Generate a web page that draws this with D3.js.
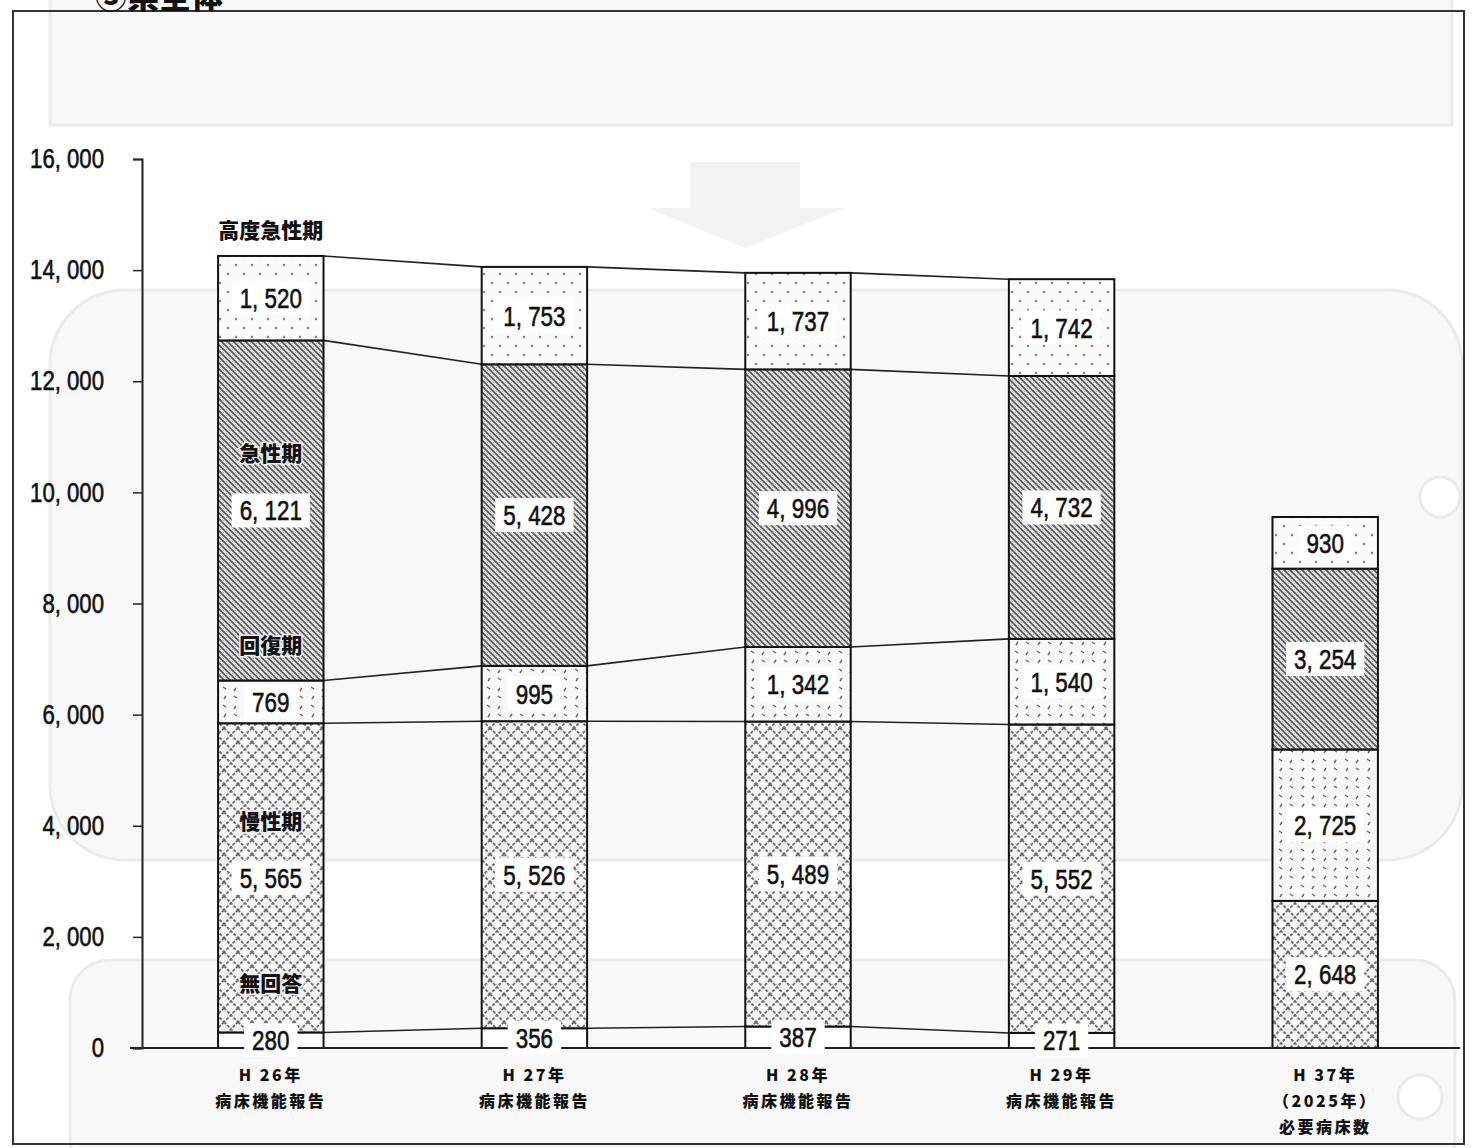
<!DOCTYPE html>
<html>
<head>
<meta charset="utf-8">
<script src="https://cdn.jsdelivr.net/npm/d3@7"></script>
<style>
  body { margin: 0; background: #fff; }
  svg { display: block; }
  .num { font-family: "Liberation Sans", Arial, sans-serif; stroke: #111; stroke-width: 0.6px; }
  .jp { font-family: "Noto Sans CJK JP", sans-serif; font-weight: 900; }
</style>
</head>
<body>
<svg id="chart" width="1472" height="1148"></svg>
<script>
// 病床機能別の病床数（県全体）
const categories = ["H26", "H27", "H28", "H29", "H37"];
const categoryLabels = [
  ["H 26年", "病床機能報告"],
  ["H 27年", "病床機能報告"],
  ["H 28年", "病床機能報告"],
  ["H 29年", "病床機能報告"],
  ["H 37年", "（2025年）", "必要病床数"]
];
const seriesNames = ["無回答", "慢性期", "回復期", "急性期", "高度急性期"];
const noAnswer  = [280, 356, 387, 271, 0];
const chronic   = [5565, 5526, 5489, 5552, 2648];
const recovery  = [769, 995, 1342, 1540, 2725];
const acute     = [6121, 5428, 4996, 4732, 3254];
const highAcute = [1520, 1753, 1737, 1742, 930];
const yTicks = [0, 2000, 4000, 6000, 8000, 10000, 12000, 14000, 16000];
const linkedCount = 4; // the four report years are joined by connector lines

const seriesValues = [noAnswer, chronic, recovery, acute, highAcute];
const rows = categories.map((c, i) => {
  const r = { cat: c };
  seriesNames.forEach((s, k) => r[s] = seriesValues[k][i]);
  return r;
});
const stacked = d3.stack().keys(seriesNames)(rows);

const svg = d3.select("#chart");
const fmt = v => d3.format(",")(v).replace(",", ", ");

// squeeze numeric text into a narrow, tall look
function narrow(sel, factor) {
  sel.each(function () {
    const len = this.getComputedTextLength();
    d3.select(this).attr("textLength", len * factor).attr("lengthAdjust", "spacingAndGlyphs");
  });
}

const y = d3.scaleLinear().domain([0, 16000]).range([1048, 159]);
const x = d3.scaleBand().domain(categories).range([139, 1457]).paddingInner(0.6).paddingOuter(0.3);

// faint page show-through shapes
const ghost = svg.append("g").attr("fill", "#f8f8f8").attr("stroke", "#ebebeb").attr("stroke-width", 3);
ghost.append("rect").attr("x", 50).attr("y", -10).attr("width", 1402).attr("height", 135);
ghost.append("path").attr("d", "M690,162 L800,162 L800,208 L845,208 L745,248 L648,208 L690,208 Z").attr("fill", "#f3f3f3").attr("stroke", "none");
ghost.append("rect").attr("x", 50).attr("y", 290).attr("width", 1412).attr("height", 570).attr("rx", 75);
ghost.append("rect").attr("x", 70).attr("y", 960).attr("width", 1385).attr("height", 220).attr("rx", 40);
ghost.append("circle").attr("cx", 1440).attr("cy", 497).attr("r", 20).attr("fill", "#fff");
ghost.append("circle").attr("cx", 1420).attr("cy", 1097).attr("r", 22).attr("fill", "#fff");

// outer frame and title
svg.append("rect").attr("x", 13).attr("y", 11).attr("width", 1451).attr("height", 1133)
  .attr("fill", "none").attr("stroke", "#333").attr("stroke-width", 2);
svg.append("text").attr("class", "jp").attr("x", 95).attr("y", 8)
  .attr("font-size", 32).attr("fill", "#111").text("③県全体");

// fill patterns
const defs = svg.append("defs");
const pDots = defs.append("pattern").attr("id", "p-high").attr("patternUnits", "userSpaceOnUse")
  .attr("width", 16).attr("height", 18);
pDots.append("rect").attr("width", 16).attr("height", 18).attr("fill", "#fbfbfb");
pDots.append("circle").attr("cx", 4).attr("cy", 4).attr("r", 1.3).attr("fill", "#888");
pDots.append("circle").attr("cx", 12).attr("cy", 13).attr("r", 1.3).attr("fill", "#888");

const pAcute = defs.append("pattern").attr("id", "p-acute").attr("patternUnits", "userSpaceOnUse")
  .attr("width", 6).attr("height", 6);
pAcute.append("rect").attr("width", 6).attr("height", 6).attr("fill", "#e6e6e6");
pAcute.append("path").attr("d", "M0,0 L6,6 M-1,5 L1,7 M5,-1 L7,1").attr("stroke", "#555").attr("stroke-width", 1.7);
pAcute.append("path").attr("d", "M6,0 L0,6").attr("stroke", "#999").attr("stroke-width", 0.7);

const pRec = defs.append("pattern").attr("id", "p-rec").attr("patternUnits", "userSpaceOnUse")
  .attr("width", 22).attr("height", 18);
pRec.append("rect").attr("width", 22).attr("height", 18).attr("fill", "#f8f8f8");
pRec.append("path").attr("d", "M3,3 l3,2 M14,12 l3,2 M16,4 l-2,3 M6,12 l-2,3")
  .attr("stroke", "#666").attr("stroke-width", 1.4);

const pChr = defs.append("pattern").attr("id", "p-chr").attr("patternUnits", "userSpaceOnUse")
  .attr("width", 14).attr("height", 14);
pChr.append("rect").attr("width", 14).attr("height", 14).attr("fill", "#f2f2f2");
pChr.append("path").attr("d", "M0,0 L14,14 M14,0 L0,14").attr("stroke", "#666")
  .attr("stroke-width", 1.7).attr("stroke-dasharray", "3,1.5");
pChr.append("circle").attr("cx", 7).attr("cy", 0).attr("r", 2.5).attr("fill", "#fff");
pChr.append("circle").attr("cx", 7).attr("cy", 14).attr("r", 2.5).attr("fill", "#fff");

const fills = {
  "無回答": "#fff",
  "慢性期": "url(#p-chr)",
  "回復期": "url(#p-rec)",
  "急性期": "url(#p-acute)",
  "高度急性期": "url(#p-high)"
};

// connector lines between report-year bars
const linked = categories.slice(0, linkedCount);
stacked.forEach(layer => {
  for (let i = 0; i < linked.length - 1; i++) {
    const a = layer[i], b = layer[i + 1];
    svg.append("line")
      .attr("x1", x(linked[i]) + x.bandwidth()).attr("y1", y(a[1]))
      .attr("x2", x(linked[i + 1])).attr("y2", y(b[1]))
      .attr("stroke", "#222").attr("stroke-width", 1.6);
  }
});

// stacked segments
stacked.forEach(layer => {
  svg.append("g").selectAll("rect").data(layer.filter(d => d[1] - d[0] > 0)).join("rect")
    .attr("x", d => x(d.data.cat))
    .attr("y", d => y(d[1]))
    .attr("width", x.bandwidth())
    .attr("height", d => y(d[0]) - y(d[1]))
    .attr("fill", fills[layer.key])
    .attr("stroke", "#111").attr("stroke-width", 2);
});

// axes
const yAxis = svg.append("g").attr("transform", "translate(142,0)")
  .call(d3.axisLeft(y).tickValues(yTicks).tickSize(9).tickPadding(29).tickFormat(fmt));
yAxis.select(".domain").attr("stroke", "#222").attr("stroke-width", 2);
yAxis.selectAll(".tick line").attr("stroke", "#222").attr("stroke-width", 1.5);
yAxis.selectAll(".tick text").attr("class", "num").attr("font-size", 27).attr("fill", "#111")
  .call(narrow, 0.82);
svg.append("line").attr("x1", 130).attr("x2", 1460).attr("y1", y(0)).attr("y2", y(0))
  .attr("stroke", "#222").attr("stroke-width", 2);

// value labels on white boxes
stacked.forEach(layer => {
  layer.forEach(d => {
    const v = d[1] - d[0];
    if (v <= 0) return;
    const cx = x(d.data.cat) + x.bandwidth() / 2;
    const cy = (y(d[0]) + y(d[1])) / 2;
    const g = svg.append("g");
    const txt = g.append("text").attr("class", "num").attr("x", cx).attr("y", cy + 10)
      .attr("text-anchor", "middle").attr("font-size", 28).attr("fill", "#111").text(fmt(v))
      .call(narrow, 0.8);
    const w = +txt.attr("textLength") + 16;
    g.insert("rect", "text").attr("x", cx - w / 2).attr("y", cy - 17).attr("width", w).attr("height", 34)
      .attr("fill", "#fff");
  });
});

// series names along the first bar
const first = categories[0];
stacked.forEach((layer, k) => {
  const d = layer[0];
  const cx = x(first) + x.bandwidth() / 2;
  const top = k === stacked.length - 1;
  const cy = top ? y(d[1]) - 26 : (y(d[0]) + y(d[1])) / 2 - 57;
  svg.append("text").attr("class", "jp").attr("x", cx).attr("y", cy + 8)
    .attr("text-anchor", "middle").attr("font-size", 21).attr("fill", "#111")
    .attr("stroke", "#eee").attr("stroke-width", top ? 0 : 3).attr("paint-order", "stroke")
    .text(layer.key);
});

// category labels
categories.forEach((c, i) => {
  const cx = x(c) + x.bandwidth() / 2;
  categoryLabels[i].forEach((line, j) => {
    svg.append("text").attr("class", "jp").attr("x", cx).attr("y", 1081 + j * 26)
      .attr("text-anchor", "middle").attr("font-size", 16).attr("letter-spacing", 2.5)
      .attr("fill", "#111").text(line);
  });
});
</script>
</body>
</html>
